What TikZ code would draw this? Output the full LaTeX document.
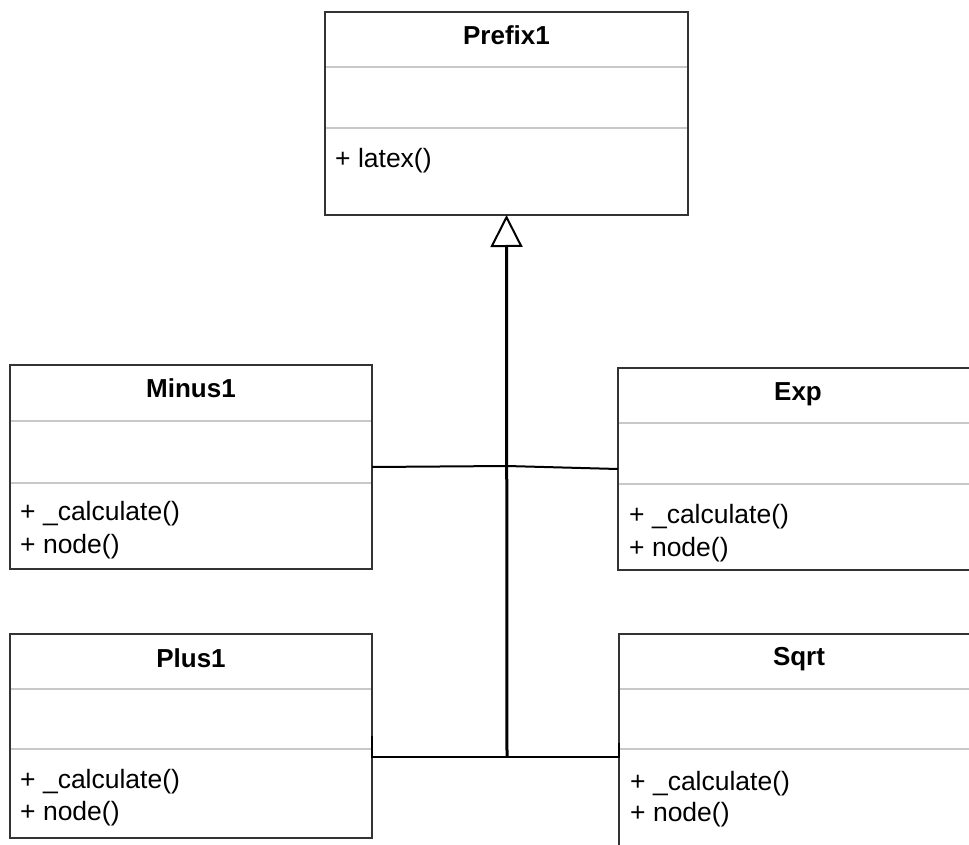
\documentclass[tikz,border=0pt]{standalone}
\usepackage{fontspec}
\setmainfont{Liberation Sans}
\usetikzlibrary{arrows.meta,calc}
\definecolor{umlborder}{RGB}{51,51,51}
\definecolor{umlsep}{RGB}{200,200,200}
\tikzset{
  classbox/.style={draw=umlborder, line width=2pt, fill=white, rectangle,
    anchor=north west, inner sep=0pt, outer sep=0pt},
  sepline/.style={draw=umlsep, line width=2pt},
  classname/.style={font=\fontsize{26}{31}\selectfont\bfseries, anchor=base, inner sep=0pt},
  member/.style={font=\fontsize{26.5}{33}\selectfont, anchor=base west, inner sep=0pt},
  link/.style={draw=black, line width=2pt},
}
% separators of a class box: name, first offset, second offset (from the top)
\newcommand\umlseps[3]{%
  \draw[sepline] ($(#1.north west)+(1,#2)$) -- ($(#1.north east)+(-1,#2)$);
  \draw[sepline] ($(#1.north west)+(1,#3)$) -- ($(#1.north east)+(-1,#3)$);
}
\begin{document}
\begin{tikzpicture}[x=1pt,y=-1pt]
\useasboundingbox (0,0) rectangle (969,845);
\fill[white] (0,0) rectangle (969,845);

% Prefix1
\node[classbox, minimum width=363pt, minimum height=203pt] (prefix) at (325,12) {};
\umlseps{prefix}{55}{116}
\node[classname] (prefixt) at (506.5,45) {Prefix1};
\node[member] (prefixm1) at (335,168) {+ latex()};

% Minus1
\node[classbox, minimum width=362pt, minimum height=204pt] (minus) at (10,365) {};
\umlseps{minus}{56}{118}
\node[classname] (minust) at (191,397) {Minus1};
\node[member] (minusm1) at (20,520) {+ \_calculate()};
\node[member] (minusm2) at (20,553) {+ node()};

% Exp
\node[classbox, minimum width=360pt, minimum height=202pt] (exp) at (618,368) {};
\umlseps{exp}{55}{116}
\node[classname] (expt) at (798,400) {Exp};
\node[member] (expm1) at (629,523) {+ \_calculate()};
\node[member] (expm2) at (629,556) {+ node()};

% Plus1
\node[classbox, minimum width=362pt, minimum height=204pt] (plus) at (10,634) {};
\umlseps{plus}{55}{115}
\node[classname] (plust) at (191,667) {Plus1};
\node[member] (plusm1) at (20,788) {+ \_calculate()};
\node[member] (plusm2) at (20,820) {+ node()};

% Sqrt
\node[classbox, minimum width=360pt, minimum height=218pt] (sqrt) at (619,634) {};
\umlseps{sqrt}{55}{115}
\node[classname] (sqrtt) at (799,665) {Sqrt};
\node[member] (sqrtm1) at (630,790) {+ \_calculate()};
\node[member] (sqrtm2) at (630,821) {+ node()};

% junctions of the inheritance tree
\coordinate (j1) at (507,466);
\coordinate (j2) at (507,757);

% generalisation connectors
\draw[link] (minus.east) -- (j1) -- (exp.west);
\draw[link] (plus.east) -- (plus.east |- j2) -- (j2);
\draw[link] (sqrt.west) -- (sqrt.west |- j2) -- (j2);
\draw[link, line width=3pt, -{Triangle[open, length=32pt, width=32pt, line width=2pt]}]
  (j2) -- (prefix.south);
\end{tikzpicture}
\end{document}
